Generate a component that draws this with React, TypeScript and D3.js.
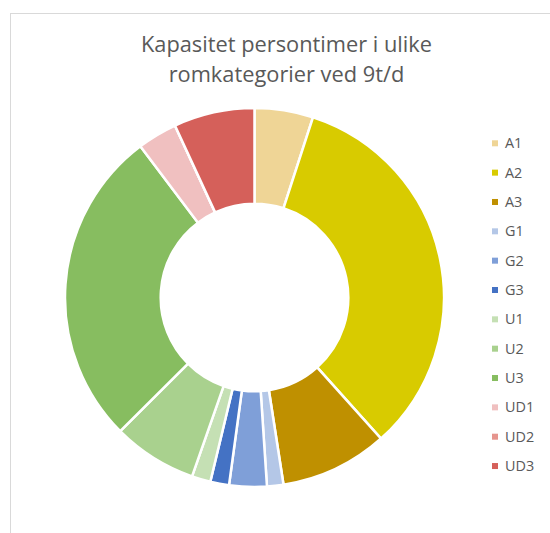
import * as d3 from "d3";

// kategorier og andeler (lest av bildet, prosent)
const categories = ["A1", "A2", "A3", "G1", "G2", "G3", "U1", "U2", "U3", "UD1", "UD2", "UD3"];
const values = [5.0, 33.4, 9.2, 1.4, 3.2, 1.6, 1.6, 7.2, 27.2, 3.4, 0, 6.9];
const colors = [
  "#EFD596", "#D8CB00", "#BF9000",
  "#B4C7E7", "#7F9FD8", "#4472C4",
  "#C5E0B4", "#A9D18E", "#87BD60",
  "#F0C0C0", "#E6958E", "#D5605A",
];
const titleLines = ["Kapasitet persontimer i ulike", "romkategorier ved 9t/d"];

const width = 550;
const height = 533;
const cx = 254.5;
const cy = 297.5;
const outerR = 189.5;
const innerR = 93.8;

export default function App() {
  const pie = d3
    .pie<number>()
    .sort(null)
    .value((d) => d)
    .startAngle(0)
    .endAngle(2 * Math.PI);
  const arcs = pie(values);
  const arc = d3.arc<d3.PieArcDatum<number>>().innerRadius(innerR).outerRadius(outerR);

  const color = d3.scaleOrdinal<string, string>().domain(categories).range(colors);
  const legendY = d3
    .scalePoint<string>()
    .domain(categories)
    .range([143.3, 143.3 + 29.34 * 11]);

  const font = "'Open Sans', 'Liberation Sans', sans-serif";

  return (
    <svg
      width={width}
      height={height}
      style={{ position: "absolute", left: 0, top: 0, display: "block", background: "#fff" }}
    >
      {/* kantlinje fra diagramrammen */}
      <rect x={10.5} y={13.5} width={width} height={height} fill="none" stroke="#D9D9D9" strokeWidth={1} />

      <g fontFamily={font} fill="#595959" textAnchor="middle" fontSize={21.8}>
        {titleLines.map((t, i) => (
          <text key={t} x={286.5} y={52 + i * 29.5}>
            {t}
          </text>
        ))}
      </g>

      <g transform={`translate(${cx},${cy})`}>
        {arcs.map((a, i) => (
          <path key={categories[i]} d={arc(a) || ""} fill={color(categories[i])} stroke="#fff" strokeWidth={2.5} />
        ))}
      </g>

      <g fontFamily={font} fontSize={14.4} fill="#595959">
        {categories.map((c) => (
          <g key={c} transform={`translate(492,${legendY(c)})`}>
            <rect x={0} y={-3} width={6} height={6} fill={color(c)} />
            <text x={13} y={0} dy="0.35em">
              {c}
            </text>
          </g>
        ))}
      </g>
    </svg>
  );
}
